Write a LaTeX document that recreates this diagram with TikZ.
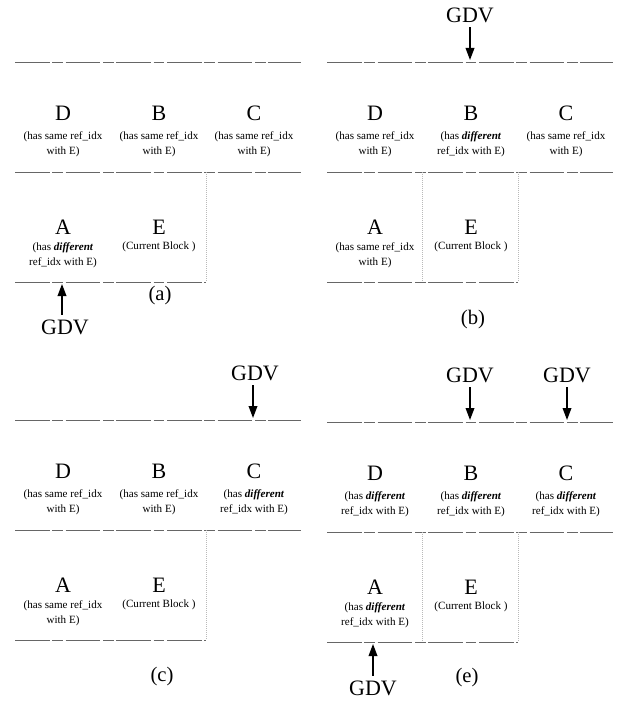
\documentclass[tikz,border=0pt]{standalone}
\usepackage{fontspec}
\setmainfont{Liberation Serif}
\usetikzlibrary{arrows.meta}
\tikzset{
  hline/.style={draw=black!60, line width=0.6pt, dash pattern=on 26pt off 2pt on 8pt off 2pt},
  vline/.style={draw=gray!55, line width=0.5pt, densely dotted},
  letter/.style={font=\fontsize{16.5}{18}\selectfont, inner sep=0pt},
  desc/.style={font=\fontsize{8.3}{11}\selectfont, align=center, inner sep=0pt},
  gdvtext/.style={font=\fontsize{16.5}{18}\selectfont},
  sublabel/.style={font=\fontsize{15.5}{17}\selectfont},
  gdvarrow/.style={-{Triangle[length=9pt,width=6.5pt]}, line width=1.1pt},
}
\newcommand\samedesc{(has same ref\_idx\\with E)}
\newcommand\diffdesc{(has \textbf{\textit{different}}\\ref\_idx with E)}
% #1 prefix, #2 x0, #3 top y, #4 D desc, #5 B desc, #6 C desc, #7 A desc
\newcommand\mypanel[7]{%
  \begin{scope}[shift={(#2,#3)}]
    \coordinate (#1tl) at (0,0);
    \coordinate (#1tr) at (286,0);
    \coordinate (#1ml) at (0,110);
    \coordinate (#1mr) at (286,110);
    \coordinate (#1bl) at (0,220);
    \coordinate (#1br) at (191,220);
    \coordinate (#1mv) at (191,110);
    \coordinate (#1mae) at (95,110);
    \coordinate (#1bae) at (95,220);
    \draw[hline] (#1tl) -- (#1tr);
    \draw[hline] (#1ml) -- (#1mr);
    \draw[hline] (#1bl) -- (#1br);
    \draw[vline] (#1mv) -- (#1br);
    \node[letter] (#1D) at (48,51) {D};
    \node[letter] (#1B) at (144,51) {B};
    \node[letter] (#1C) at (239,51) {C};
    \node[desc] (#1Dd) at (48,82) {#4};
    \node[desc] (#1Bd) at (144,82) {#5};
    \node[desc] (#1Cd) at (239,82) {#6};
    \node[letter] (#1A) at (48,165) {A};
    \node[letter] (#1E) at (144,165) {E};
    \node[desc] (#1Ad) at (48,193) {#7};
    \node[desc] (#1Ed) at (144,185) {(Current Block )};
  \end{scope}}
\begin{document}
\begin{tikzpicture}[x=0.75pt,y=-0.75pt]
  \useasboundingbox (0,0) rectangle (631,702);
  % (a)
  \mypanel{a}{15}{62}{\samedesc}{\samedesc}{\samedesc}{\diffdesc}
  \node[sublabel] (la) at (160,296) {(a)};
  \node[gdvtext] (gdva) at (65,327) {GDV};
  \coordinate (ga) at (62,284);
  \draw[gdvarrow] (gdva.north -| ga) -- (ga);
  % (b)
  \mypanel{b}{327}{62}{\samedesc}{\diffdesc}{\samedesc}{\samedesc}
  \draw[vline] (bmae) -- (bbae);
  \node[sublabel] (lb) at (473,320) {(b)};
  \node[gdvtext] (gdvb) at (470,15) {GDV};
  \coordinate (gb) at (470,60);
  \draw[gdvarrow] (gdvb.south) -- (gb);
  % (c)
  \mypanel{c}{15}{420}{\samedesc}{\samedesc}{\diffdesc}{\samedesc}
  \node[sublabel] (lc) at (162,677) {(c)};
  \node[gdvtext] (gdvc) at (255,373) {GDV};
  \coordinate (gc) at (253,418);
  \draw[gdvarrow] (gdvc.south -| gc) -- (gc);
  % (e)
  \mypanel{e}{327}{422}{\diffdesc}{\diffdesc}{\diffdesc}{\diffdesc}
  \draw[vline] (emae) -- (ebae);
  \node[sublabel] (le) at (467,678) {(e)};
  \node[gdvtext] (gdve1) at (470,375) {GDV};
  \coordinate (ge1) at (470,420);
  \draw[gdvarrow] (gdve1.south) -- (ge1);
  \node[gdvtext] (gdve2) at (567,375) {GDV};
  \coordinate (ge2) at (567,420);
  \draw[gdvarrow] (gdve2.south) -- (ge2);
  \node[gdvtext] (gdve3) at (373,688) {GDV};
  \coordinate (ge3) at (373,644);
  \draw[gdvarrow] (gdve3.north) -- (ge3);
\end{tikzpicture}
\end{document}
